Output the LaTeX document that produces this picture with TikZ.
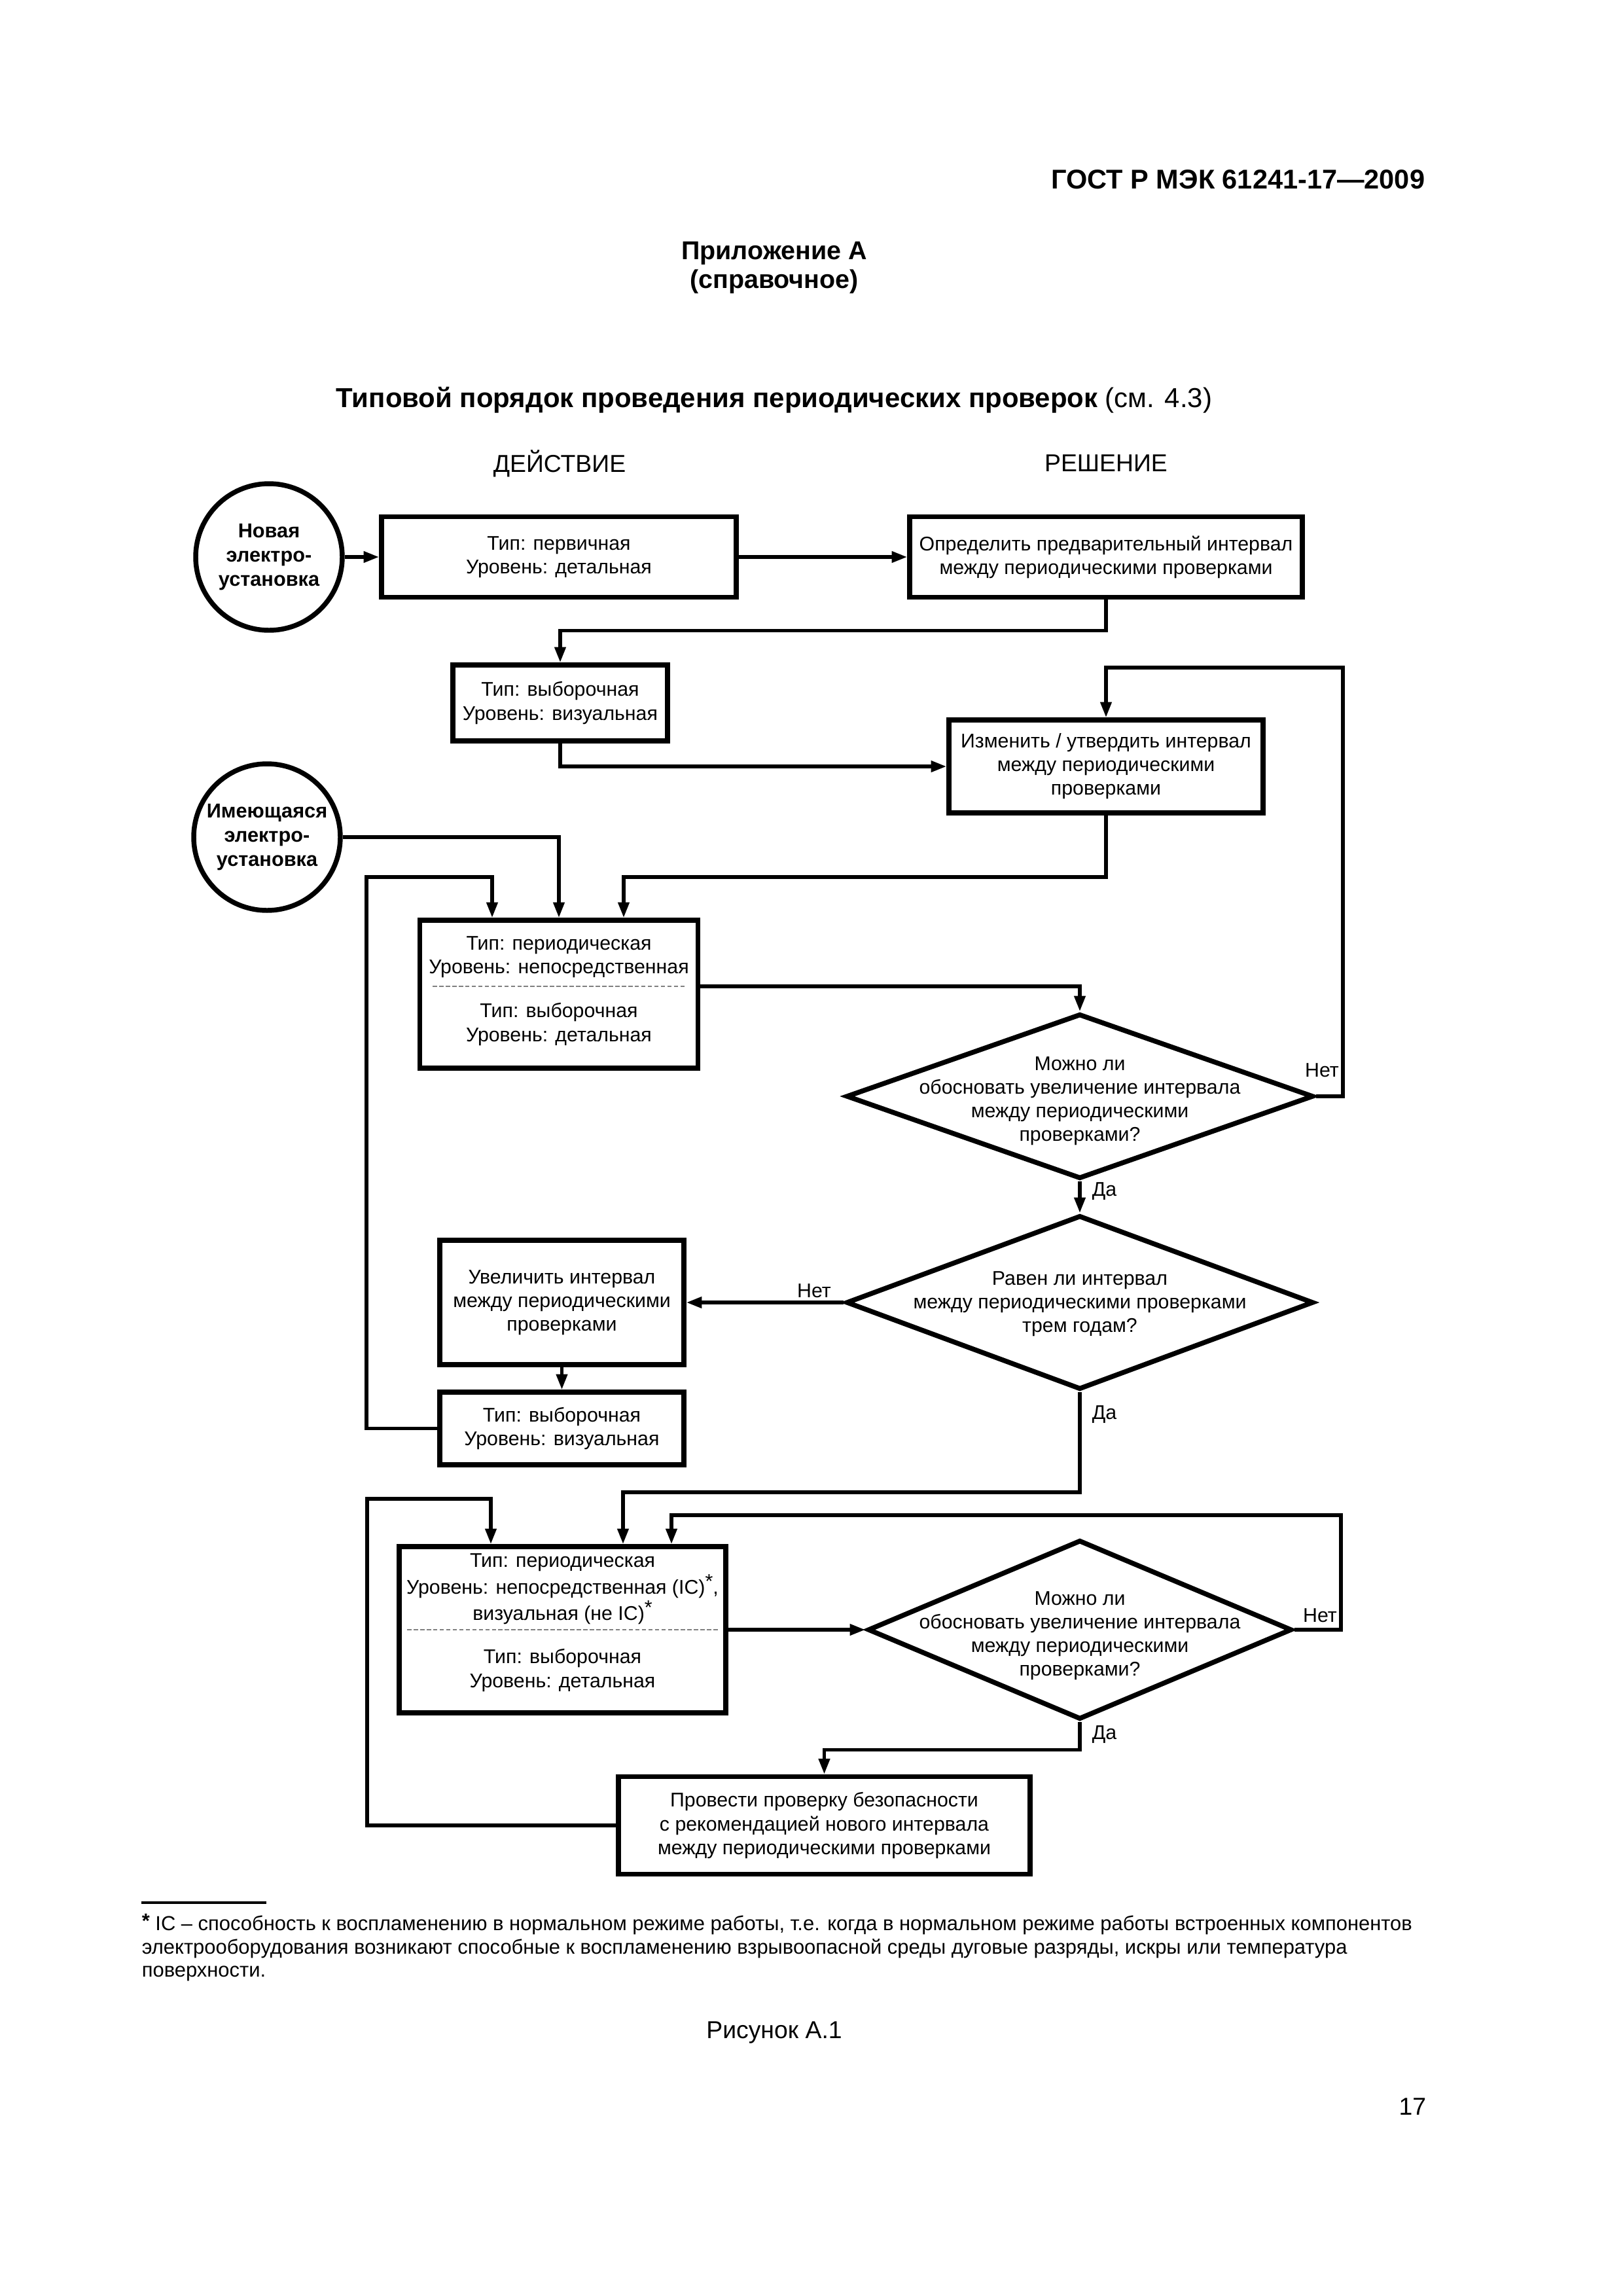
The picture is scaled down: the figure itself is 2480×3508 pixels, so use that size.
\documentclass[tikz,border=0pt]{standalone}
\usepackage{fontspec}
\setmainfont{Liberation Sans}
\usetikzlibrary{arrows.meta,shapes.geometric,calc}
\newcommand\boxfont{\fontsize{7.3}{8.7}\selectfont}
\newcommand\circfont{\bfseries\fontsize{7.4}{8.9}\selectfont}
\newcommand\sast{\raisebox{0.3em}{*}}
\begin{document}
\begin{tikzpicture}[x=0.0846667mm, y=-0.0846667mm,
  box/.style={draw, rectangle, line width=1.8pt, inner sep=0pt, align=center, font=\boxfont},
  sz/.style 2 args={minimum width=#1*0.0846667mm, minimum height=#2*0.0846667mm},
  circ/.style={draw, circle, line width=1.8pt, inner sep=0pt, minimum size=224*0.0846667mm},
  ctxt/.style={align=center, inner sep=0pt, font=\circfont},
  dia/.style={draw, diamond, line width=1.8pt, inner sep=0pt},
  txt/.style={align=center, inner sep=0pt, font=\boxfont},
  lbl/.style={inner sep=0pt, font=\boxfont},
  conn/.style={line width=1.3pt, -{Triangle[length=2mm,width=1.4mm]}},
  sepline/.style={draw=gray, line width=0.35pt, dash pattern=on 1.6pt off 0.8pt}]
\useasboundingbox (0,0) rectangle (2480,3508);
\fill[white] (0,0) rectangle (2480,3508);

% header texts
\node[anchor=east, inner sep=0pt, font=\bfseries\fontsize{10}{12}\selectfont] (hdr) at (2178,274) {ГОСТ Р МЭК 61241-17—2009};
\node[align=center, inner sep=0pt, font=\bfseries\fontsize{9.5}{10.8}\selectfont] (app) at (1183,409) {Приложение А\\(справочное)};
\node[inner sep=0pt, font=\fontsize{10.1}{12}\selectfont] (title) at (1183,611) {\textbf{Типовой порядок проведения периодических проверок} (см. 4.3)};
\node[inner sep=0pt, font=\fontsize{9}{11}\selectfont] (act) at (855,708) {ДЕЙСТВИЕ};
\node[inner sep=0pt, font=\fontsize{9}{11}\selectfont] (dec) at (1690,708) {РЕШЕНИЕ};

% nodes
\node[circ] (c1) at (411,851) {};
\node[ctxt] (c1t) at (411,851) {Новая\\электро-\\установка};
\node[box, sz={542}{123}] (A) at (854,851) {Тип: первичная\\Уровень: детальная};
\node[box, sz={600}{123}] (B) at (1690,851) {Определить предварительный интервал\\между периодическими проверками};
\node[box, sz={328}{116}] (C) at (856,1074) {Тип: выборочная\\Уровень: визуальная};
\node[box, sz={480}{142}] (D) at (1690,1171) {Изменить / утвердить интервал\\между периодическими\\проверками};
\node[circ] (c2) at (408,1279) {};
\node[ctxt] (c2t) at (408,1279) {Имеющаяся\\электро-\\установка};
\node[box, sz={425}{226}] (E) at (854,1519) {};
\node[txt] (E1) at (854,1462) {Тип: периодическая\\Уровень: непосредственная};
\node[txt] (E2) at (854,1565) {Тип: выборочная\\Уровень: детальная};
\coordinate (sepE) at (854,1507);
\draw[sepline] (661,1507) -- (1046,1507);

\node[dia, sz={714}{252}] (d1) at (1650,1675) {};
\node[txt] (d1t) at (1650,1682) {Можно ли\\обосновать увеличение интервала\\между периодическими\\проверками?};
\node[dia, sz={714}{266}] (d2) at (1650,1990) {};
\node[txt] (d2t) at (1650,1992) {Равен ли интервал\\между периодическими проверками\\трем годам?};
\node[box, sz={373}{190}] (F) at (858.5,1990) {Увеличить интервал\\между периодическими\\проверками};
\node[box, sz={373}{111}] (G) at (858.5,2182.5) {Тип: выборочная\\Уровень: визуальная};

\node[box, sz={499}{254}] (H) at (859.5,2490) {};
\node[txt] (H1) at (859.5,2428) {Тип: периодическая\\Уровень: непосредственная (IC)\sast,\\визуальная (не IC)\sast};
\node[txt] (H2) at (859.5,2552) {Тип: выборочная\\Уровень: детальная};
\draw[sepline] (622,2490) -- (1097,2490);
\node[dia, sz={648}{274}] (d3) at (1650,2490) {};
\node[txt] (d3t) at (1650,2499) {Можно ли\\обосновать увеличение интервала\\между периодическими\\проверками?};
\node[box, sz={629}{149}] (I) at (1259.5,2789) {Провести проверку безопасности\\с рекомендацией нового интервала\\между периодическими проверками};

% helper coordinates
\coordinate (l1) at (2052,1020);
\coordinate (e1) at (752,1340);
\coordinate (l2) at (560,1340);
\coordinate (e3) at (953,1340);
\coordinate (h1) at (750,2290);
\coordinate (l3) at (561,2290);
\coordinate (h2) at (952,2280);
\coordinate (h3) at (1026,2315);
\coordinate (l4) at (2049,2315);

% connectors
\draw[conn] (c1.east) -- (A.west);
\draw[conn] (A.east) -- (B.west);
\draw[conn] (B.south) -- ++(0,47) -| (C.north);
\draw[conn] (C.south) |- (D.west);
\draw[conn] (d1.east) -| (l1) -| (D.north);
\draw[conn] (c2.east) -| (E.north);
\draw[conn] (D.south) |- (e3) -- (e3 |- E.north);
\draw[conn] (G.west) -| (l2) -- (e1) -- (e1 |- E.north);
\draw[conn] (E.east |- sepE) -| (d1.north);
\draw[conn] (d1.south) -- (d2.north);
\draw[conn] (d2.west) -- (F.east);
\draw[conn] (F.south) -- (G.north);
\draw[conn] (d2.south) |- (h2) -- (h2 |- H.north);
\draw[conn] (I.west) -| (l3) -- (h1) -- (h1 |- H.north);
\draw[conn] (H.east) -- (d3.west);
\draw[conn] (d3.east) -| (l4) -- (h3) -- (h3 |- H.north);
\draw[conn] (d3.south) -- ++(0,43) -| (I.north);

% labels
\node[lbl] (n1) at (2020,1635) {Нет};
\node[lbl, anchor=west] (y1) at (1668,1820) {Да};
\node[lbl] (n2) at (1244,1972) {Нет};
\node[lbl, anchor=west] (y2) at (1668,2161) {Да};
\node[lbl] (n3) at (2017,2468) {Нет};
\node[lbl, anchor=west] (y3) at (1668,2650) {Да};

% footnote
\coordinate (fr1) at (216,2907);
\coordinate (fr2) at (407,2907);
\draw[line width=0.3mm] (fr1) -- (fr2);
\node[anchor=north west, align=left, inner sep=0pt, font=\fontsize{7.45}{8.5}\selectfont] (fn) at (216,2923) {\raisebox{0.15em}{\textbf{*}} IC – способность к воспламенению в нормальном режиме работы, т.е. когда в нормальном режиме работы встроенных компонентов\\электрооборудования возникают способные к воспламенению взрывоопасной среды дуговые разряды, искры или температура\\поверхности.};
\node[inner sep=0pt, font=\fontsize{9}{11}\selectfont] (fig) at (1183,3105) {Рисунок А.1};
\node[anchor=east, inner sep=0pt, font=\fontsize{9}{11}\selectfont] (pg) at (2180,3219) {17};
\end{tikzpicture}
\end{document}
